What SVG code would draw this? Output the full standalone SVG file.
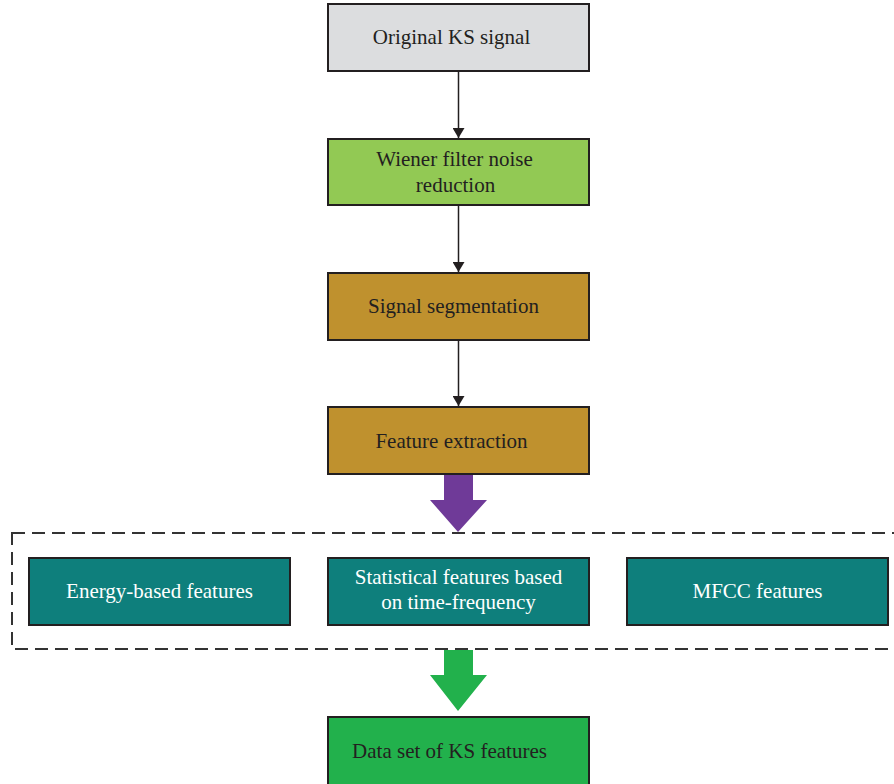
<svg xmlns="http://www.w3.org/2000/svg" width="894" height="784" viewBox="0 0 894 784">
<defs>
<style>
.box{stroke:#231f20;stroke-width:2}
.t{font-family:"Liberation Serif","Times New Roman",serif;font-size:21px;fill:#231f20;text-anchor:middle}
.w{fill:#ffffff}
.conn{stroke:#231f20;stroke-width:1.5;fill:none}
</style>
<marker id="ah" markerWidth="10" markerHeight="12" refX="10" refY="6" orient="auto" markerUnits="userSpaceOnUse">
<path d="M0,0 L10,6 L0,12 Z" fill="#231f20"/>
</marker>
</defs>
<rect width="894" height="784" fill="#ffffff"/>
<g id="n1"><rect class="box" x="328" y="4" width="261" height="67" fill="#dcdddf"/><text class="t" x="451.5" y="44">Original KS signal</text></g>
<g id="n2"><rect class="box" x="328" y="139" width="261" height="66" fill="#92c954"/><text class="t" x="454.5" y="166">Wiener filter noise</text><text class="t" x="455.5" y="192">reduction</text></g>
<g id="n3"><rect class="box" x="328" y="273" width="261" height="67" fill="#bf912e"/><text class="t" x="453.5" y="313">Signal segmentation</text></g>
<g id="n4"><rect class="box" x="328" y="407" width="261" height="67" fill="#bf912e"/><text class="t" x="451.5" y="447.5">Feature extraction</text></g>
<g id="group"><rect x="12" y="533" width="900" height="116" fill="none" stroke="#333333" stroke-width="2" stroke-dasharray="13,7"/></g>
<g id="f1"><rect class="box" x="29" y="558" width="261" height="67" fill="#0e7f7c"/><text class="t w" x="159.5" y="597.5">Energy-based features</text></g>
<g id="f2"><rect class="box" x="328" y="558" width="261" height="67" fill="#0e7f7c"/><text class="t w" x="458.5" y="583.5">Statistical features based</text><text class="t w" x="458.5" y="609">on time-frequency</text></g>
<g id="f3"><rect class="box" x="627" y="558" width="261" height="67" fill="#0e7f7c"/><text class="t w" x="757.5" y="597.5">MFCC features</text></g>
<g id="n5"><rect class="box" x="328" y="717" width="261" height="80" fill="#22b14c"/><text class="t" x="449.5" y="758">Data set of KS features</text></g>
<g id="connectors">
<line class="conn" x1="458.5" y1="71" x2="458.5" y2="138" marker-end="url(#ah)"/>
<line class="conn" x1="458.5" y1="205" x2="458.5" y2="272" marker-end="url(#ah)"/>
<line class="conn" x1="458.5" y1="340" x2="458.5" y2="406" marker-end="url(#ah)"/>
<polygon points="444,475 473,475 473,500 487,500 458,532 430,500 444,500" fill="#6f3a98"/>
<polygon points="444,650 473,650 473,675 487,675 458,711 430,675 444,675" fill="#22b14c"/>
</g>
</svg>
